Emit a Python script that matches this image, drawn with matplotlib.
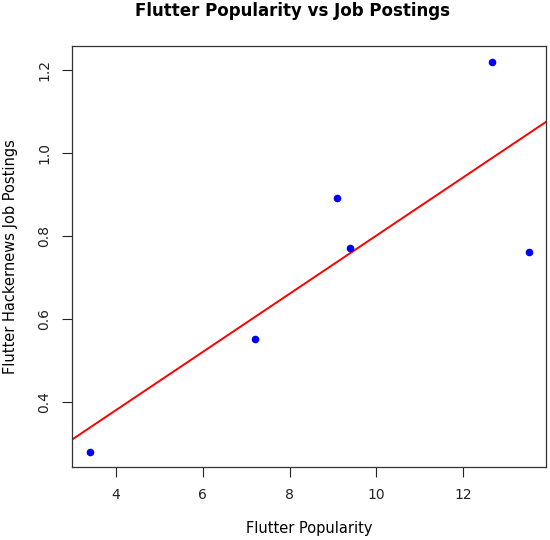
import numpy as np
import matplotlib
matplotlib.use("Agg")
import matplotlib.pyplot as plt

# Flutter popularity vs hackernews job postings
popularity = [3.4, 7.2, 9.1, 9.4, 12.65, 13.5]
job_postings = [0.28, 0.55, 0.89, 0.77, 1.22, 0.76]
x_ticks = [4, 6, 8, 10, 12]
y_ticks = [0.4, 0.6, 0.8, 1.0, 1.2]

fig = plt.figure(figsize=(5.5, 5.4), dpi=100)
ax = fig.add_axes([0.131, 0.135, 0.862, 0.78])

ax.scatter(popularity, job_postings, color="blue", s=20, zorder=3)

# least squares line, like abline(lm(...)) in R
slope, intercept = np.polyfit(popularity, job_postings, 1)
xr = np.array([2.996, 13.904])
ax.plot(xr, intercept + slope * xr, color="red", lw=1.4)

ax.set_xlim(2.996, 13.904)
ax.set_ylim(0.2424, 1.2576)
ax.set_xticks(x_ticks)
ax.set_yticks(y_ticks)
ax.set_xticklabels([str(t) for t in x_ticks])
ax.set_yticklabels(["%.1f" % t for t in y_ticks], rotation=90, va="center")
ax.tick_params(labelsize=10, length=7, width=0.8, pad=8, colors="#222222")
for s in ax.spines.values():
    s.set_linewidth(0.9)
    s.set_color("#333333")

ax.set_xlabel("Flutter Popularity", fontsize=10.5, labelpad=14)
ax.set_ylabel("Flutter Hackernews Job Postings", fontsize=10.5, labelpad=14)
fig.text(0.531, 0.98, "Flutter Popularity vs Job Postings", fontsize=12,
         fontweight="bold", ha="center", va="center")

plt.savefig("out.png", dpi=100)
